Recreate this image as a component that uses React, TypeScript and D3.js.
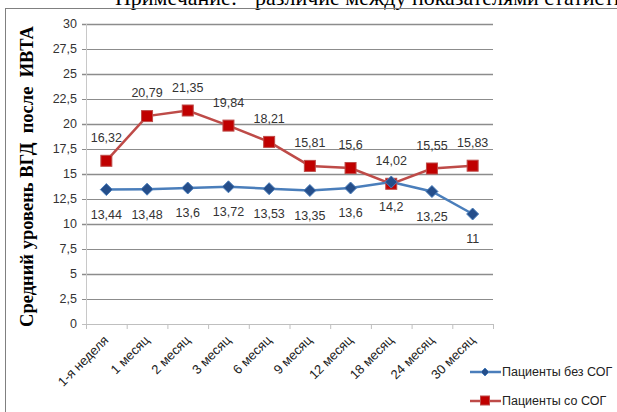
import React from "react";
import * as d3 from "d3";

const categories = ["1-я неделя", "1 месяц", "2 месяц", "3 месяц", "6 месяц", "9 месяц", "12 месяц", "18 месяц", "24 месяц", "30 месяц"];
const seriesNames = ["Пациенты без СОГ", "Пациенты со СОГ"];
const withoutSog = [13.44, 13.48, 13.6, 13.72, 13.53, 13.35, 13.6, 14.2, 13.25, 11];
const withSog = [16.32, 20.79, 21.35, 19.84, 18.21, 15.81, 15.6, 14.02, 15.55, 15.83];
const yTicks = [0, 2.5, 5, 7.5, 10, 12.5, 15, 17.5, 20, 22.5, 25, 27.5, 30];
const fmt = (v: number) => String(v).replace(".", ",");

export default function App() {
  const W = 617, H = 412;
  const left = 86, right = 493, top = 24, bottom = 324;
  const x = d3.scaleBand<string>().domain(categories).range([left, right]);
  const cx = (c: string) => (x(c) as number) + x.bandwidth() / 2;
  const y = d3.scaleLinear().domain([0, 30]).range([bottom, top]);
  const line = d3.line<number>().x((_, i) => cx(categories[i])).y((d) => y(d));
  const sans = "'Liberation Sans', Arial, sans-serif";
  const serif = "'Liberation Serif', 'Times New Roman', serif";
  const blue = "#4A7EBB", blueDark = "#254E8A", red = "#BE4B48", redFill = "#C00000";
  const diamond = (px: number, py: number, s: number) => `M${px},${py - s}L${px + s},${py}L${px},${py + s}L${px - s},${py}Z`;

  return (
    <svg width={W} height={H} style={{ position: "absolute", left: 0, top: 0, background: "#fff" }}>
      <rect width={W} height={H} fill="#fff" />
      {/* clipped note at top */}
      <text x={237} y={5} textAnchor="end" fontFamily={serif} fontSize={22} fill="#000">Примечание:</text>
      <text x={255} y={5} fontFamily={serif} fontSize={22} fill="#000">различие между показателями статистически</text>
      {/* outer border */}
      <line x1={5} y1={8.5} x2={W} y2={8.5} stroke="#808080" strokeWidth={1} />
      <line x1={5.5} y1={8} x2={5.5} y2={H} stroke="#808080" strokeWidth={1} />

      {/* grid */}
      {yTicks.map((t) => (
        <g key={t}>
          <line x1={82} x2={right} y1={Math.round(y(t)) + 0.5} y2={Math.round(y(t)) + 0.5} stroke={t === 0 ? "#BFBFBF" : "#8C8C8C"} strokeWidth={t % 5 === 0 && t !== 0 ? 1.6 : 1} />
          <text x={77} y={y(t)} dy="0.35em" textAnchor="end" fontFamily={sans} fontSize={12.5} fill="#333">{fmt(t)}</text>
        </g>
      ))}
      <line x1={left + 0.5} x2={left + 0.5} y1={top} y2={bottom} stroke="#C8C8C8" />
      <line x1={left} x2={right} y1={bottom + 0.5} y2={bottom + 0.5} stroke="#BFBFBF" />
      {categories.map((c) => (
        <line key={c} x1={(x(c) as number) + x.bandwidth() + 0.5} x2={(x(c) as number) + x.bandwidth() + 0.5} y1={bottom} y2={bottom + 5} stroke="#BFBFBF" />
      ))}
      <line x1={left + 0.5} x2={left + 0.5} y1={bottom} y2={bottom + 5} stroke="#BFBFBF" />

      {/* x labels */}
      {categories.map((c) => (
        <text key={c} transform={`translate(${cx(c) + 3},${bottom + 17}) rotate(-45)`} textAnchor="end" fontFamily={sans} fontSize={13} fill="#222">{c}</text>
      ))}

      {/* y title */}
      <text transform={`translate(33,176.5) rotate(-90)`} textAnchor="middle" fontFamily={serif} fontSize={18.5} fontWeight="bold" fill="#000" xmlSpace="preserve">
        {"Средний уровень ВГД  после  ИВТА"}
      </text>

      {/* lines */}
      <path d={line(withSog) || ""} fill="none" stroke={red} strokeWidth={2.5} />
      <path d={line(withoutSog) || ""} fill="none" stroke={blue} strokeWidth={2.5} />
      {withSog.map((v, i) => (
        <rect key={"r" + i} x={cx(categories[i]) - 5.5} y={y(v) - 5.5} width={11} height={11} fill={redFill} stroke={red} strokeWidth={1} />
      ))}
      {withoutSog.map((v, i) => (
        <path key={"b" + i} d={diamond(cx(categories[i]), y(v), 6)} fill={blueDark} stroke={blue} strokeWidth={1} />
      ))}

      {/* data labels */}
      {withSog.map((v, i) => (
        <text key={"rl" + i} x={cx(categories[i])} y={y(v) - 23} dy="0.35em" textAnchor="middle" fontFamily={sans} fontSize={12.5} fill="#333">{fmt(v)}</text>
      ))}
      {withoutSog.map((v, i) => (
        <text key={"bl" + i} x={cx(categories[i])} y={y(v) + 25} dy="0.35em" textAnchor="middle" fontFamily={sans} fontSize={12.5} fill="#333">{fmt(v)}</text>
      ))}

      {/* legend */}
      <line x1={470} x2={501} y1={372} y2={372} stroke={blue} strokeWidth={2.5} />
      <path d={diamond(485, 372, 4)} fill={blueDark} stroke={blue} strokeWidth={1} />
      <text x={502} y={372} dy="0.35em" fontFamily={sans} fontSize={12.5} fill="#222">{seriesNames[0]}</text>
      <line x1={470} x2={501} y1={401} y2={401} stroke={red} strokeWidth={2.5} />
      <rect x={480.5} y={396} width={9} height={9} fill={redFill} stroke={red} />
      <text x={502} y={401} dy="0.35em" fontFamily={sans} fontSize={12.5} fill="#222">{seriesNames[1]}</text>
    </svg>
  );
}
